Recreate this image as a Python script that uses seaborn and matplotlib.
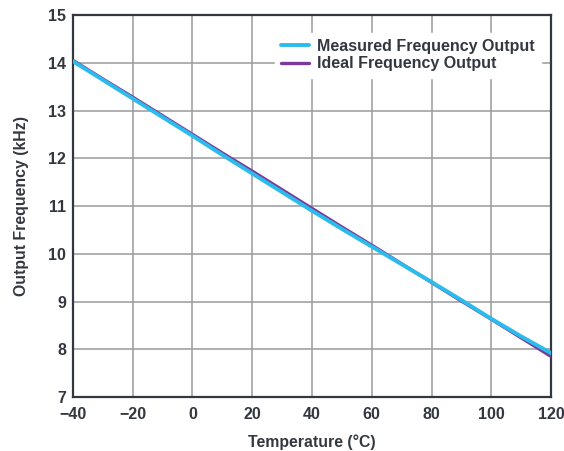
import numpy as np
import pandas as pd
import seaborn as sns
import matplotlib.pyplot as plt

# values
temps = [-40, -30, -20, -10, 0, 10, 20, 30, 40, 50, 60, 70, 80, 90, 100, 110, 120]
measured = [14.03, 13.64, 13.25, 12.86, 12.47, 12.07, 11.68, 11.29, 10.90,
            10.52, 10.15, 9.78, 9.41, 9.03, 8.64, 8.27, 7.92]
ideal = [14.05, 13.66, 13.28, 12.89, 12.50, 12.11, 11.73, 11.34, 10.95,
         10.56, 10.18, 9.79, 9.40, 9.01, 8.63, 8.24, 7.85]
x_ticks = [-40, -20, 0, 20, 40, 60, 80, 100, 120]
x_labels = ["\u221240", "\u221220", "0", "20", "40", "60", "80", "100", "120"]
y_ticks = [7, 8, 9, 10, 11, 12, 13, 14, 15]

sns.set_style("white")
plt.rcParams['font.family'] = ['Liberation Sans', 'DejaVu Sans']

df = pd.DataFrame({
    'temp': temps * 2,
    'freq': ideal + measured,
    'series': ['Ideal Frequency Output'] * len(temps) + ['Measured Frequency Output'] * len(temps),
})

txt = '#333740'
fig = plt.figure(figsize=(5.64, 4.51), dpi=100)
ax = fig.add_axes([0.1294, 0.1197, 0.8476, 0.847])

sns.lineplot(data=df[df.series == 'Ideal Frequency Output'], x='temp', y='freq',
             color='#7B3A9A', lw=2.4, ax=ax, label='Ideal Frequency Output', zorder=3)
sns.lineplot(data=df[df.series == 'Measured Frequency Output'], x='temp', y='freq',
             color='#2BBCEB', lw=2.8, ax=ax, label='Measured Frequency Output', zorder=4)

ax.set_xlim(-40, 120)
ax.set_ylim(7, 15)
ax.set_xticks(x_ticks)
ax.set_xticklabels(x_labels)
ax.set_yticks(y_ticks)
ax.grid(True, color='#9a9a9e', lw=1.1)
ax.tick_params(axis='y', length=0, pad=5, labelsize=11.5, labelcolor=txt)
ax.tick_params(axis='x', length=0, pad=7, labelsize=11.5, labelcolor=txt)
for lab in ax.get_xticklabels() + ax.get_yticklabels():
    lab.set_fontweight('bold')
for s in ax.spines.values():
    s.set_color(txt)
    s.set_linewidth(1.6)

ax.set_xlabel('Temperature (\u00b0C)', fontsize=11.4, fontweight='bold', color=txt, labelpad=9)
ax.set_ylabel('Output Frequency (kHz)', fontsize=11.4, fontweight='bold', color=txt, labelpad=14)

h, l = ax.get_legend_handles_labels()
leg = ax.legend(h[::-1], l[::-1], loc='upper right', bbox_to_anchor=(0.995, 0.975),
                frameon=True, framealpha=1, edgecolor='white', fancybox=False,
                fontsize=11.5, handlelength=1.7, handletextpad=0.5, labelspacing=0.15,
                borderpad=0.4)
for t in leg.get_texts():
    t.set_fontweight('bold')
    t.set_color(txt)

fig.savefig('out.png', dpi=100)
